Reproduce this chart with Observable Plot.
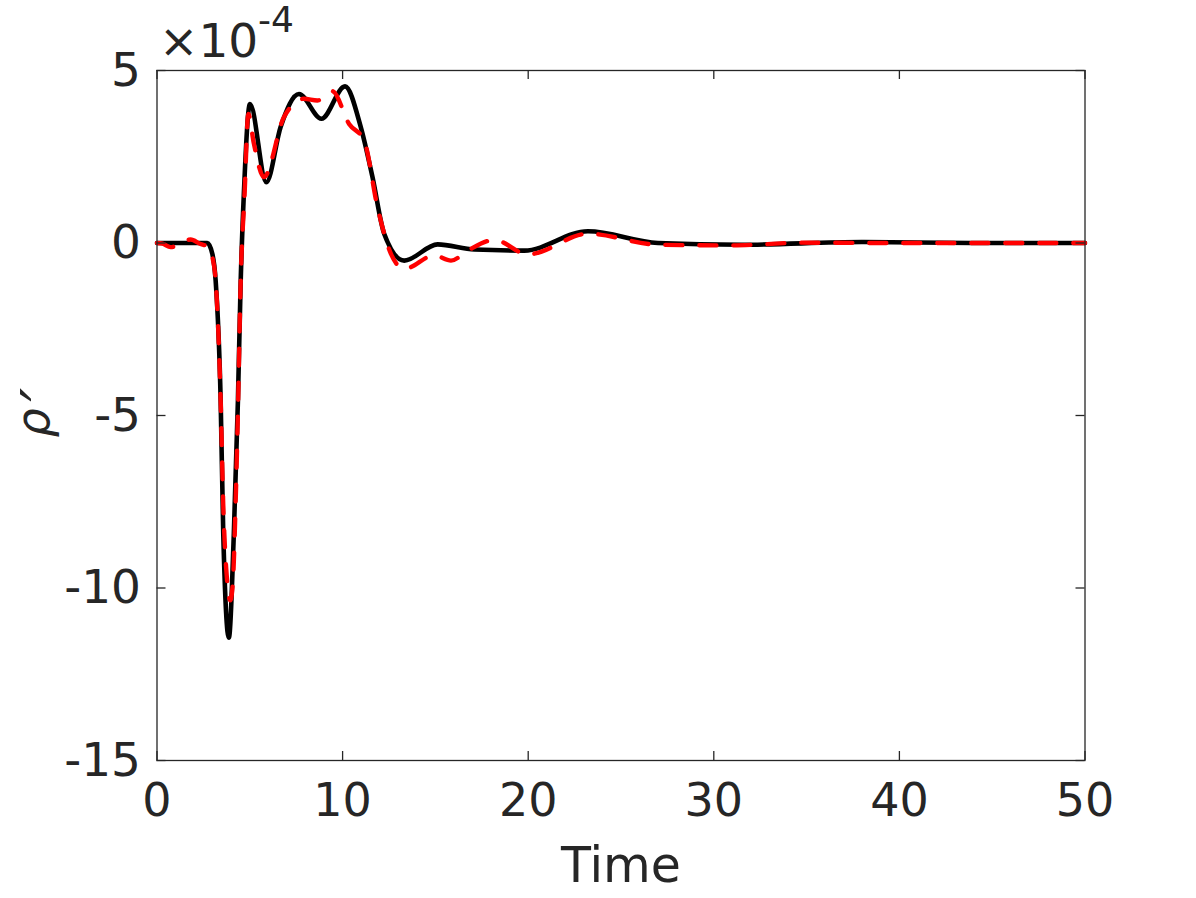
<!DOCTYPE html>
<html>
<head>
<meta charset="utf-8">
<script src="https://cdn.jsdelivr.net/npm/d3@7"></script>
<script src="https://cdn.jsdelivr.net/npm/@observablehq/plot@0.6"></script>
<style>
  html, body { margin: 0; padding: 0; background: #fff; }
  #chart { width: 1196px; height: 898px; }
</style>
</head>
<body>
<div id="chart"></div>
<script>
// Values in units of 1e-4
const blackT = [0, 2.5, 2.71, 2.98, 3.16, 3.43, 3.57, 3.87, 4.14, 4.36, 4.51, 4.68, 5.01, 5.89, 6.66, 7.65, 8.86, 10.13, 10.98, 11.61, 12.24, 13.32, 15.12, 17.1, 19.79, 23.22, 26.99, 31.49, 37.97, 44, 50];
const blackV = [0, 0, 0, -0.31, -1.09, -4.57, -8.42, -11.44, -8.42, -4.57, -1.09, 1.43, 4.03, 1.76, 3.36, 4.32, 3.6, 4.54, 3.36, 1.91, 0.27, -0.51, -0.04, -0.19, -0.22, 0.34, 0, -0.05, 0.03, 0, 0];

const redT = [0, 0.3, 0.73, 1.81, 2.35, 2.75, 2.98, 3.16, 3.43, 3.57, 3.75, 3.95, 4.08, 4.24, 4.36, 4.51, 4.72, 4.92, 5.22, 5.76, 6.84, 7.92, 8.64, 9.45, 10.35, 11.16, 11.88, 12.6, 13.32, 14.94, 15.84, 16.74, 18.18, 19.98, 23.22, 26.99, 30.77, 32.57, 34.55, 40, 50];
const redV = [0, -0.02, -0.12, 0.1, -0.03, -0.1, -0.4, -1.09, -4.57, -7.6, -9.6, -10.36, -9.9, -7.46, -4.9, -1.09, 1.43, 3.74, 2.88, 1.91, 3.65, 4.18, 4.13, 4.4, 3.45, 2.97, 1.04, -0.31, -0.75, -0.36, -0.51, -0.22, 0.09, -0.33, 0.27, -0.05, -0.07, -0.04, 0.01, 0, 0];

const xTicks = [0, 10, 20, 30, 40, 50];
const yTicks = [-15, -10, -5, 0, 5];
const xLabel = "Time";
const yLabelBase = "ρ";
const yLabelPrime = "′";
const scaleBase = "×10";
const scaleExp = "-4";

const black = blackT.map((t, i) => ({t, v: blackV[i]}));
const red = redT.map((t, i) => ({t, v: redV[i]}));

const W = 1196, H = 898;
const mL = 156.5, mR = 111.5, mT = 70, mB = 138;
const fw = W - mL - mR, fh = H - mT - mB;
const tickLen = 9;
const axisColor = "#262626";

const chart = Plot.plot({
  width: W,
  height: H,
  marginLeft: mL,
  marginRight: mR,
  marginTop: mT,
  marginBottom: mB,
  style: {fontFamily: "DejaVu Sans", background: "white", color: axisColor, overflow: "visible"},
  x: {domain: [0, 50]},
  y: {domain: [-15, 5]},
  marks: [
    Plot.line(black, {x: "t", y: "v", stroke: "#000000", strokeWidth: 4.6, curve: "monotone-x"}),
    Plot.line(red, {x: "t", y: "v", stroke: "#ff0000", strokeWidth: 4.4, strokeDasharray: "17,17", curve: "monotone-x"}),
    Plot.frame({stroke: axisColor, strokeWidth: 1.3}),
    // inward ticks: bottom, top, left, right
    Plot.tickX(xTicks, {x: d => d, stroke: axisColor, strokeWidth: 1.3, insetTop: fh - tickLen}),
    Plot.tickX(xTicks, {x: d => d, stroke: axisColor, strokeWidth: 1.3, insetBottom: fh - tickLen}),
    Plot.tickY(yTicks, {y: d => d, stroke: axisColor, strokeWidth: 1.3, insetRight: fw - tickLen}),
    Plot.tickY(yTicks, {y: d => d, stroke: axisColor, strokeWidth: 1.3, insetLeft: fw - tickLen}),
    Plot.axisX({ticks: xTicks, tickSize: 0, tickPadding: 23, fontSize: 46, tickFormat: d => String(d), label: null, color: axisColor}),
    Plot.axisY({ticks: yTicks, tickSize: 0, tickPadding: 16, fontSize: 47, tickFormat: d => String(d), label: null, color: axisColor}),
    Plot.text([xLabel], {text: d => d, frameAnchor: "bottom", dy: 106, fontSize: 49, fill: axisColor, lineAnchor: "middle"}),
    Plot.text([yLabelBase], {text: d => d, frameAnchor: "left", dx: -123, dy: 22, rotate: -90, fontSize: 46, fontStyle: "italic", fill: axisColor, lineAnchor: "middle"}),
    Plot.text([yLabelPrime], {text: d => d, frameAnchor: "left", dx: -112, dy: -14, rotate: -90, fontSize: 60, fontStyle: "italic", fill: axisColor, lineAnchor: "middle"}),
    Plot.text([scaleBase], {text: d => d, frameAnchor: "top-left", dx: 2, dy: -14, fontSize: 47, fill: axisColor, textAnchor: "start", lineAnchor: "bottom"}),
    Plot.text([scaleExp], {text: d => d, frameAnchor: "top-left", dx: 101, dy: -39, fontSize: 36, fill: axisColor, textAnchor: "start", lineAnchor: "bottom"})
  ]
});
document.getElementById("chart").appendChild(chart);
</script>
</body>
</html>
